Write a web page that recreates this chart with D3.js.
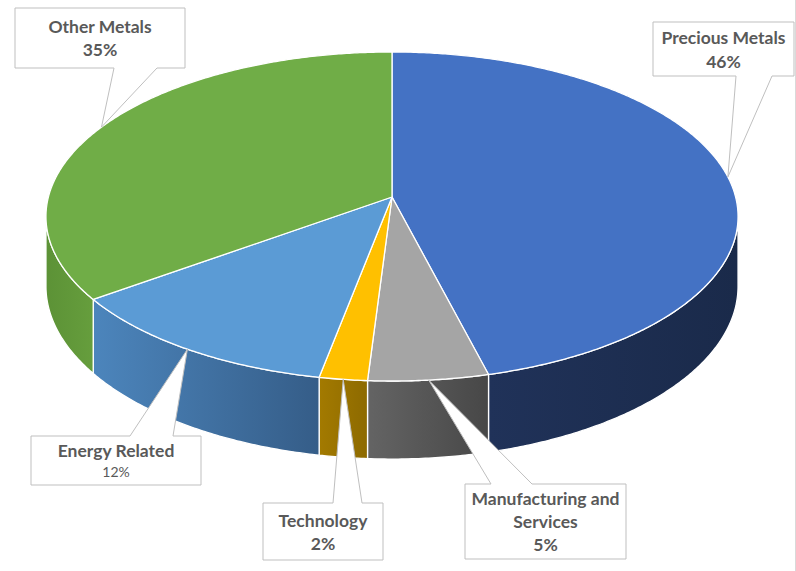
<!DOCTYPE html>
<html>
<head>
<meta charset="utf-8">
<script src="https://cdn.jsdelivr.net/npm/d3@7"></script>
<style>
  html, body { margin: 0; padding: 0; background: #fff; }
  svg { display: block; }
  text { font-family: Lato, "Open Sans", sans-serif; fill: #595959; }
</style>
</head>
<body>
<div id="chart"></div>
<script>
// slices, clockwise from 12 o'clock
const categories = ["Precious Metals", "Manufacturing and Services", "Technology", "Energy Related", "Other Metals"]
const shares = [46, 5, 2, 12, 35]
const labelLines = [["Precious Metals"], ["Manufacturing and", "Services"], ["Technology"], ["Energy Related"], ["Other Metals"]]

const topColors = ["#4472C4", "#A5A5A5", "#FFC000", "#5B9BD5", "#70AD47"]
const wallColors = [["#203259", "#1A2A4A"], ["#646464", "#474747"], ["#A37A00", "#8D6A00"], ["#4C85BC", "#355D88"], ["#5C9236", "#669E3D"]]

// callout boxes [x, y, w, h], tail side, tail base x's, baselines (from box top)
const callouts = [
    { box: [653, 22, 141, 54], side: "bottom", tail: [736, 772], base: [22, 46] },
    { box: [465, 484, 161, 75], side: "top", tail: [491, 532], base: [21, 44, 67] },
    { box: [263, 503, 120, 57], side: "top", tail: [333, 362], base: [24, 47] },
    { box: [31, 436, 170, 49], side: "top", tail: [130, 173], base: [21, 41], smallPct: true },
    { box: [15, 8, 170, 60], side: "bottom", tail: [114, 157], base: [25, 48] }
]

const W = 796, H = 571

const svg = d3.select("#chart")
    .append("svg")
    .attr("width", W)
    .attr("height", H)

// perspective ellipse: centre of the pie, radius, vertical scale, perspective, depth
const CX = 392, CY = 197, R = 343.6, A = 162.2, K = -0.1185, D0 = 68.8

function proj(theta, drop) {
    const u = Math.sin(theta), v = -Math.cos(theta)
    const w = 1 + K * v
    return [CX + R * u / w, CY + A * v / w + (drop ? D0 / w : 0)]
}

function arcPoints(a0, a1, drop) {
    const n = Math.max(2, Math.ceil((a1 - a0) / (Math.PI / 360)))
    return d3.range(n + 1).map(i => proj(a0 + (a1 - a0) * i / n, drop))
}

const pie = d3.pie().sort(null).value(d => d).startAngle(0).endAngle(2 * Math.PI)
const arcs = pie(shares)

// gradients for the side walls
const defs = svg.append("defs")
arcs.forEach((d, i) => {
    const g = defs.append("linearGradient").attr("id", "wall" + i)
        .attr("x1", 0).attr("x2", 1).attr("y1", 0).attr("y2", 0)
    g.append("stop").attr("offset", "0%").attr("stop-color", wallColors[i][0])
    g.append("stop").attr("offset", "100%").attr("stop-color", wallColors[i][1])
})

// visible front wall lies between the two silhouettes
const sil = Math.acos(K)   // -cos(theta) = -K
const wallMin = sil, wallMax = 2 * Math.PI - sil

const line = d3.line()

const walls = arcs.map((d, i) => {
    const a0 = Math.max(d.startAngle, wallMin), a1 = Math.min(d.endAngle, wallMax)
    return { i, a0, a1 }
}).filter(w => w.a1 > w.a0)

svg.append("g")
    .selectAll("path")
    .data(walls)
    .join("path")
    .attr("d", w => {
        const top = arcPoints(w.a0, w.a1, false)
        const bot = arcPoints(w.a0, w.a1, true).reverse()
        return line(top.concat(bot)) + "Z"
    })
    .attr("fill", w => `url(#wall${w.i})`)
    .attr("stroke", "#fff")
    .attr("stroke-width", 1.3)
    .attr("stroke-linejoin", "round")

// top faces
svg.append("g")
    .selectAll("path")
    .data(arcs)
    .join("path")
    .attr("d", d => line([[CX, CY]].concat(arcPoints(d.startAngle, d.endAngle, false))) + "Z")
    .attr("fill", (d, i) => topColors[i])
    .attr("stroke", "#fff")
    .attr("stroke-width", 1.3)
    .attr("stroke-linejoin", "round")

// chart border on the right
svg.append("line")
    .attr("x1", 795.5).attr("x2", 795.5).attr("y1", 0).attr("y2", H)
    .attr("stroke", "#D9D9D9")

// callouts
const labels = svg.append("g")
arcs.forEach((d, i) => {
    const c = callouts[i]
    const [x, y, w, h] = c.box
    const tip = proj((d.startAngle + d.endAngle) / 2, false)
    let p
    if (c.side === "bottom") {
        p = `M${x},${y}H${x + w}V${y + h}H${c.tail[1]}L${tip[0]},${tip[1]}L${c.tail[0]},${y + h}H${x}Z`
    } else {
        p = `M${x},${y}H${c.tail[0]}L${tip[0]},${tip[1]}L${c.tail[1]},${y}H${x + w}V${y + h}H${x}Z`
    }
    labels.append("path")
        .attr("d", p)
        .attr("fill", "#fff")
        .attr("stroke", "#BFBFBF")
        .attr("stroke-width", 1)

    const lines = labelLines[i].concat([shares[i] + "%"])
    lines.forEach((t, j) => {
        const last = j === lines.length - 1
        labels.append("text")
            .attr("x", x + w / 2)
            .attr("y", y + c.base[j])
            .attr("text-anchor", "middle")
            .attr("font-size", last && c.smallPct ? 14 : 17.5)
            .attr("font-weight", last && c.smallPct ? 400 : 700)
            .text(t)
    })
})
</script>
</body>
</html>
